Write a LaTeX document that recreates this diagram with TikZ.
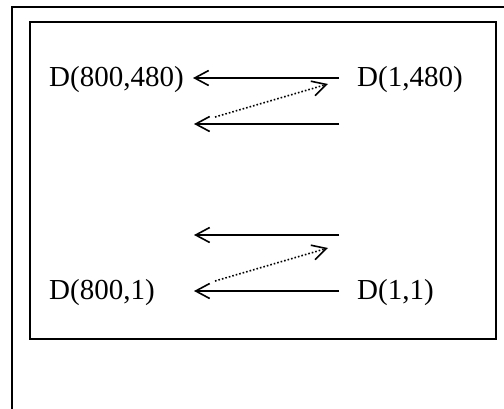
\documentclass[tikz,border=0pt]{standalone}
\usepackage{fontspec}
\setmainfont{Liberation Serif}
\usetikzlibrary{arrows.meta}
\begin{document}
\begin{tikzpicture}[x=1pt,y=-1pt,
  frame/.style={draw=black,line width=1.8pt},
  lbl/.style={anchor=base west,inner sep=0pt,font=\fontsize{29}{34}\selectfont},
  solidarrow/.style={draw=black,line width=1.6pt,-{Straight Barb[length=14pt,width=15pt,line width=1.6pt]}},
  dotarrow/.style={draw=black,line width=1.6pt,dotted,-{Straight Barb[length=14pt,width=15pt,line width=1.6pt]}}]
\useasboundingbox (0,0) rectangle (504,408);
\draw[frame] (12,410) -- (12,7) -- (506,7);
\draw[frame] (30,22) rectangle (496,339);
\node[lbl] (tl) at (49,86) {D(800,480)};
\node[lbl] (tr) at (357,86) {D(1,480)};
\node[lbl] (bl) at (49,299) {D(800,1)};
\node[lbl] (br) at (357,299) {D(1,1)};
\coordinate (a1s) at (339,78);  \coordinate (a1e) at (193,78);
\coordinate (a2s) at (339,124); \coordinate (a2e) at (194,124);
\coordinate (d1s) at (215,117); \coordinate (d1e) at (328,84);
\coordinate (a3s) at (339,235); \coordinate (a3e) at (194,235);
\coordinate (d2s) at (215,281); \coordinate (d2e) at (328,248);
\coordinate (a4s) at (339,291); \coordinate (a4e) at (194,291);
\draw[solidarrow] (a1s) -- (a1e);
\draw[solidarrow] (a2s) -- (a2e);
\draw[dotarrow] (d1s) -- (d1e);
\draw[solidarrow] (a3s) -- (a3e);
\draw[dotarrow] (d2s) -- (d2e);
\draw[solidarrow] (a4s) -- (a4e);
\end{tikzpicture}
\end{document}
